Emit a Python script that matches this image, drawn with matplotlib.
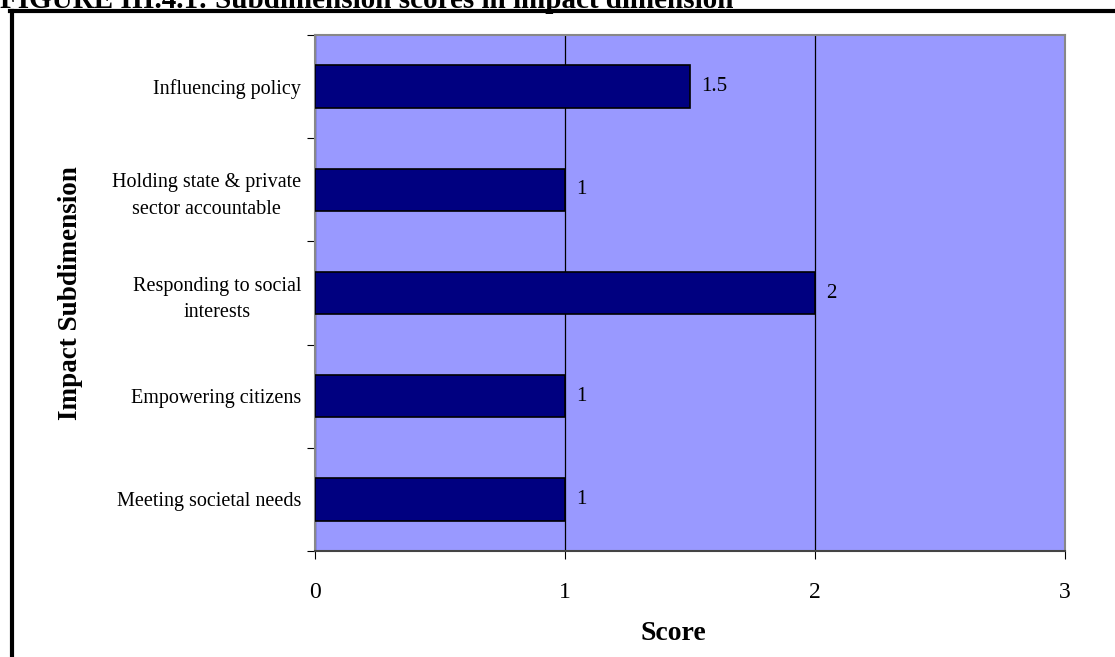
import matplotlib.pyplot as plt
from matplotlib.lines import Line2D

plt.rcParams['font.family'] = ['Liberation Serif', 'DejaVu Serif']

categories = ['Meeting societal needs', 'Empowering citizens',
              'Responding to social\ninterests',
              'Holding state & private\nsector accountable',
              'Influencing policy']
scores = [1, 1, 2, 1, 1.5]
score_labels = ['1', '1', '2', '1', '1.5']
x_ticks = [0, 1, 2, 3]

fig = plt.figure(figsize=(11.15, 6.57), dpi=100)
ax = fig.add_axes([315 / 1115, 1 - 551 / 657, 750 / 1115, 516 / 657])
ax.set_facecolor('#9999FF')

pos = list(range(len(categories)))
ax.barh(pos, scores, height=0.41, color='#000080', edgecolor='black', linewidth=1.2, zorder=3)
for p, s, lab in zip(pos, scores, score_labels):
    ax.text(s + 0.045, p, lab, va='center', ha='left', fontsize=15, zorder=4)

ax.set_xlim(0, 3)
ax.set_ylim(-0.5, len(categories) - 0.5)
ax.set_xticks(x_ticks)
ax.set_xticklabels([str(t) for t in x_ticks], fontsize=17)
ax.xaxis.grid(True, color='black', linewidth=0.9, zorder=1)
ax.set_axisbelow(True)

# category labels between ticks at the boundaries
ax.set_yticks([p - 0.5 for p in pos] + [len(pos) - 0.5])
ax.set_yticklabels([])
ax.set_yticks(pos, minor=True)
ax.set_yticklabels(categories, minor=True, fontsize=14.5, multialignment='center',
                   linespacing=1.55)
ax.tick_params(axis='y', which='minor', length=0, pad=10)
ax.tick_params(axis='y', which='major', length=6, direction='out', color='black')
ax.tick_params(axis='x', length=6, direction='out', color='black', pad=16)

for side in ['left', 'top', 'right']:
    ax.spines[side].set_color('#888888')
    ax.spines[side].set_linewidth(1.5)
ax.spines['bottom'].set_color('#444444')
ax.spines['bottom'].set_linewidth(1.5)

ax.set_xlabel('Score', fontsize=20, fontweight='bold', labelpad=15)
ax.xaxis.set_label_coords(0.478, -0.135)
ax.set_ylabel('Impact Subdimension', fontsize=19.5, fontweight='bold', labelpad=21)

# outer frame (left and top edges visible)
fig.add_artist(Line2D([11.5 / 1115, 11.5 / 1115], [0, 1 - 10.5 / 657], color='black', linewidth=3))
fig.add_artist(Line2D([10 / 1115, 1], [1 - 10.5 / 657, 1 - 10.5 / 657], color='black', linewidth=3))

# caption, cut off at the top edge
fig.text(0.0, 1 - 8 / 657, 'FIGURE III.4.1: Subdimension scores in impact dimension',
         fontsize=21, fontweight='bold', ha='left', va='baseline')

fig.savefig('out.png', dpi=100)
